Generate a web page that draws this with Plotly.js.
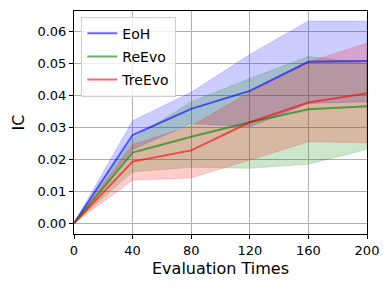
<!DOCTYPE html>
<html><head><meta charset="utf-8">
<script src="https://cdn.plot.ly/plotly-3.0.1.min.js"></script>
<style>html,body{margin:0;padding:0;background:#fff}#c{width:390px;height:290px}</style>
</head><body><div id="c"></div>
<script>
const evalTimes = [0, 40, 80, 120, 160, 200];
const eohMean  = [0, 0.0276, 0.0358, 0.0414, 0.0505, 0.0508];
const eohUpper = [0, 0.0321, 0.0410, 0.0528, 0.0633, 0.0633];
const eohLower = [0, 0.0231, 0.0312, 0.0302, 0.0375, 0.0380];
const reevoMean  = [0, 0.0221, 0.0271, 0.0316, 0.0357, 0.0366];
const reevoUpper = [0, 0.0265, 0.0380, 0.0453, 0.0522, 0.0500];
const reevoLower = [0, 0.0161, 0.0175, 0.0172, 0.0185, 0.0231];
const treevoMean  = [0, 0.0193, 0.0228, 0.0316, 0.0378, 0.0407];
const treevoUpper = [0, 0.0247, 0.0305, 0.0410, 0.0505, 0.0563];
const treevoLower = [0, 0.0135, 0.0142, 0.0198, 0.0255, 0.0252];
const names = ['EoH', 'ReEvo', 'TreEvo'];
const xTicks = [0, 40, 80, 120, 160, 200];
const yTicks = [0, 0.01, 0.02, 0.03, 0.04, 0.05, 0.06];

const series = [
  {name: names[0], m: eohMean, u: eohUpper, l: eohLower, rgb: '0,0,255'},
  {name: names[1], m: reevoMean, u: reevoUpper, l: reevoLower, rgb: '0,128,0'},
  {name: names[2], m: treevoMean, u: treevoUpper, l: treevoLower, rgb: '255,0,0'}
];
const traces = [];
series.forEach(s => {
  traces.push({
    x: evalTimes.concat(evalTimes.slice().reverse()),
    y: s.u.concat(s.l.slice().reverse()),
    type: 'scatter', mode: 'lines', fill: 'toself',
    fillcolor: 'rgba(' + s.rgb + ',0.2)',
    line: {width: 0.8, color: 'rgba(' + s.rgb + ',0.2)'},
    showlegend: false, hoverinfo: 'skip', legendgroup: s.name
  });
});
series.forEach(s => {
  traces.push({
    x: evalTimes, y: s.m, name: s.name, legendgroup: s.name,
    type: 'scatter', mode: 'lines',
    line: {width: 2, color: 'rgba(' + s.rgb + ',0.6)'}
  });
});
const axisCommon = {
  showline: true, linecolor: '#000', linewidth: 1, mirror: true,
  ticks: 'outside', ticklen: 4, tickwidth: 1, tickcolor: '#000',
  showgrid: true, gridcolor: '#b0b0b0', gridwidth: 1, zeroline: false,
  tickfont: {family: 'DejaVu Sans', size: 13, color: '#000'}
};
const layout = {
  width: 390, height: 290,
  margin: {l: 74, r: 23, t: 11, b: 56},
  paper_bgcolor: '#fff', plot_bgcolor: '#fff',
  font: {family: 'DejaVu Sans', color: '#000'},
  xaxis: Object.assign({}, axisCommon, {
    range: [0, 200], tickvals: xTicks, ticktext: xTicks.map(String),
    title: {text: 'Evaluation Times', font: {size: 16, family: 'DejaVu Sans'}, standoff: 6}
  }),
  yaxis: Object.assign({}, axisCommon, {
    range: [-0.00334, 0.0664], tickvals: yTicks, ticktext: yTicks.map(v => v.toFixed(2)),
    title: {text: 'IC', font: {size: 16, family: 'DejaVu Sans'}, standoff: 8}
  }),
  legend: {
    x: 0.025, y: 0.975, xanchor: 'left', yanchor: 'top',
    bgcolor: 'rgba(255,255,255,0.8)', bordercolor: '#d0d0d0', borderwidth: 1,
    font: {family: 'DejaVu Sans', size: 14, color: '#000'},
    itemwidth: 30, traceorder: 'grouped', tracegroupgap: 2
  },
  showlegend: true
};
Plotly.newPlot('c', traces, layout, {displayModeBar: false, staticPlot: true});
</script></body></html>
